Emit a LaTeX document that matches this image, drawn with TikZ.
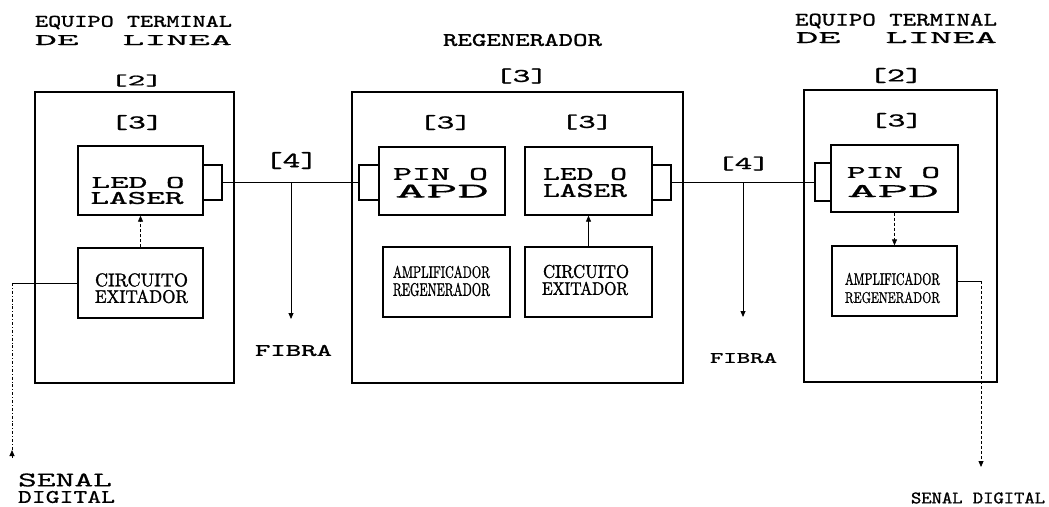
\documentclass[tikz,border=0pt]{standalone}
\usepackage{fontspec}
\usepackage{graphicx}
\usetikzlibrary{arrows.meta,fit}

% typewriter and roman faces, slightly emboldened
\newfontfamily\typew{lmmono10-regular.otf}[FakeBold=1.0]
\newfontfamily\typel{lmmono10-regular.otf}[FakeBold=0.4]
\newfontfamily\romw{lmroman10-regular.otf}[FakeBold=1.4]

% one line of text stretched to a given width and cap height
\newcommand{\txtline}[7]{\node[txt] (#1) at (#2,#3) {\resizebox{#4pt}{#5pt}{#6#7}};}
% bracketed numbers: width and total height (with depth)
\newcommand{\brkline}[6]{\node[txt] (#1) at (#2,#3) {\resizebox*{#4pt}{#5pt}{\typew#6}};}

\tikzset{
  txt/.style={inner sep=0pt, outer sep=0pt, anchor=center},
  outerbox/.style={draw, line width=1.3pt, inner sep=0pt},
  blk/.style={draw, line width=1.3pt, inner sep=0pt},
  capbox/.style={draw, line width=1.2pt, inner sep=0pt},
  fiber/.style={line width=1.2pt},
  tip/.style={-{Triangle[length=6pt,width=5pt]}},
  feed/.style={line width=0.8pt}
}

\begin{document}
\begin{tikzpicture}[x=1pt,y=-1pt]
\useasboundingbox[fill=white] (0,0) rectangle (1049,506);

% ---------- left line terminal ----------
\txtline{eqL}{133.5}{22.5}{197}{11}{\typew}{EQUIPO TERMINAL}
\txtline{deL}{133.5}{40}{197}{10}{\typel}{DE\ \ LINEA}
\brkline{n2L}{136.5}{80.5}{53}{12}{[2]}
\node[outerbox, fit={(35,92) (234,383)}] (etL) {};
\brkline{n3L}{137}{122.5}{53}{15}{[3]}
\node[blk, fit={(78,146) (203,215)}] (led1) {};
\node[capbox, fit={(203,165) (222,200)}] (cap1) {};
\txtline{led1a}{138}{182.5}{93}{11}{\typew}{LED O}
\txtline{led1b}{137}{198}{93}{12}{\typew}{LASER}
\node[blk, fit={(78,248) (203,318)}] (cir1) {};
\txtline{cir1a}{141.5}{280}{93}{13}{\romw}{CIRCUITO}
\txtline{cir1b}{141.5}{296.5}{93}{13}{\romw}{EXITADOR}

% ---------- regenerator ----------
\txtline{regT}{522.5}{40}{159}{12}{\typew}{REGENERADOR}
\brkline{n3M}{521.5}{76}{53}{15}{[3]}
\node[outerbox, fit={(352,92) (683,383)}] (reg) {};
\brkline{n3P}{445.5}{122.5}{53}{15}{[3]}
\brkline{n3Q}{587}{122}{52}{15}{[3]}
\node[blk, fit={(379,147) (505,215)}] (pin2) {};
\node[capbox, fit={(359,165) (379,200)}] (cap2) {};
\txtline{pin2a}{440.5}{174}{95}{12}{\typew}{PIN O}
\txtline{pin2b}{442}{191}{94}{13}{\typel}{APD}
\node[blk, fit={(525,147) (652,215)}] (led2) {};
\node[capbox, fit={(652,165) (671,200)}] (cap3) {};
\txtline{led2a}{585}{174}{84}{12}{\typew}{LED O}
\txtline{led2b}{585}{190.5}{84}{13}{\typew}{LASER}
\node[blk, fit={(383,247) (510,317)}] (amp2) {};
\txtline{amp2a}{441.5}{272}{97}{12}{\romw}{AMPLIFICADOR}
\txtline{amp2b}{441.5}{289.5}{97}{13}{\romw}{REGENERADOR}
\node[blk, fit={(525,247) (652,317)}] (cir2) {};
\txtline{cir2a}{586}{271.5}{86}{13}{\romw}{CIRCUITO}
\txtline{cir2b}{585}{288.5}{86}{13}{\romw}{EXITADOR}

% ---------- right line terminal ----------
\txtline{eqR}{896}{21}{202}{12}{\typew}{EQUIPO TERMINAL}
\txtline{deR}{896.5}{37.5}{201}{11}{\typel}{DE\ \ LINEA}
\brkline{n2R}{896}{75.5}{54}{15}{[2]}
\node[outerbox, fit={(804,90) (997,382)}] (etR) {};
\brkline{n3R}{896.5}{120.5}{53}{15}{[3]}
\node[blk, fit={(831,145) (958,212)}] (pin3) {};
\node[capbox, fit={(815,163) (831,201)}] (cap4) {};
\txtline{pin3a}{893.5}{172.5}{93}{11}{\typew}{PIN O}
\txtline{pin3b}{893}{191}{92}{12}{\typel}{APD}
\node[blk, fit={(832,246) (957,316)}] (amp3) {};
\txtline{amp3a}{892.5}{279}{95}{12}{\romw}{AMPLIFICADOR}
\txtline{amp3b}{892.5}{297.5}{95}{11}{\romw}{REGENERADOR}

% ---------- fibre spans ----------
\draw[fiber] (cap1.east) -- (cap2.west);
\draw[fiber] (cap3.east) -- (cap3.east -| cap4.west);
\brkline{n4L}{291.5}{160.5}{53}{17}{[4]}
\brkline{n4R}{743.5}{163.5}{53}{14}{[4]}
\coordinate (f1a) at (291,183);
\coordinate (f1b) at (291,319);
\coordinate (f2a) at (743,182.5);
\coordinate (f2b) at (743,317);
\draw[feed, tip] (f1a) -- (f1b);
\draw[feed, tip] (f2a) -- (f2b);
\txtline{fibL}{293.5}{350.5}{77}{11}{\typew}{FIBRA}
\txtline{fibR}{743.5}{358}{67}{10}{\typew}{FIBRA}

% ---------- internal links ----------
\draw[feed, densely dashed, tip] (cir1.north) -- (led1.south);
\draw[feed, tip] (cir2.north) -- (led2.south);
\draw[feed, densely dashed, tip] (pin3.south) -- (amp3.north);

% ---------- digital signal in / out ----------
\coordinate (sdIn) at (12,458);
\coordinate (sdInTip) at (12,450);
\draw[line width=1pt] (cir1.west) -- (cir1.west -| sdIn);
\draw[feed, dash dot] (cir1.west -| sdIn) -- (sdIn);
\draw[feed, tip] (sdIn) -- (sdInTip);
\txtline{sdLa}{65}{480}{94}{13}{\typel}{SENAL}
\txtline{sdLb}{66.5}{497}{97}{12}{\typel}{DIGITAL}

\coordinate (sdOut) at (981,467);
\draw[line width=1pt] (amp3.east) -- (amp3.east -| sdOut);
\draw[feed, densely dashed, tip] (amp3.east -| sdOut) -- (sdOut);
\txtline{sdR}{978}{498}{134}{11}{\typew}{SENAL DIGITAL}
\end{tikzpicture}
\end{document}
